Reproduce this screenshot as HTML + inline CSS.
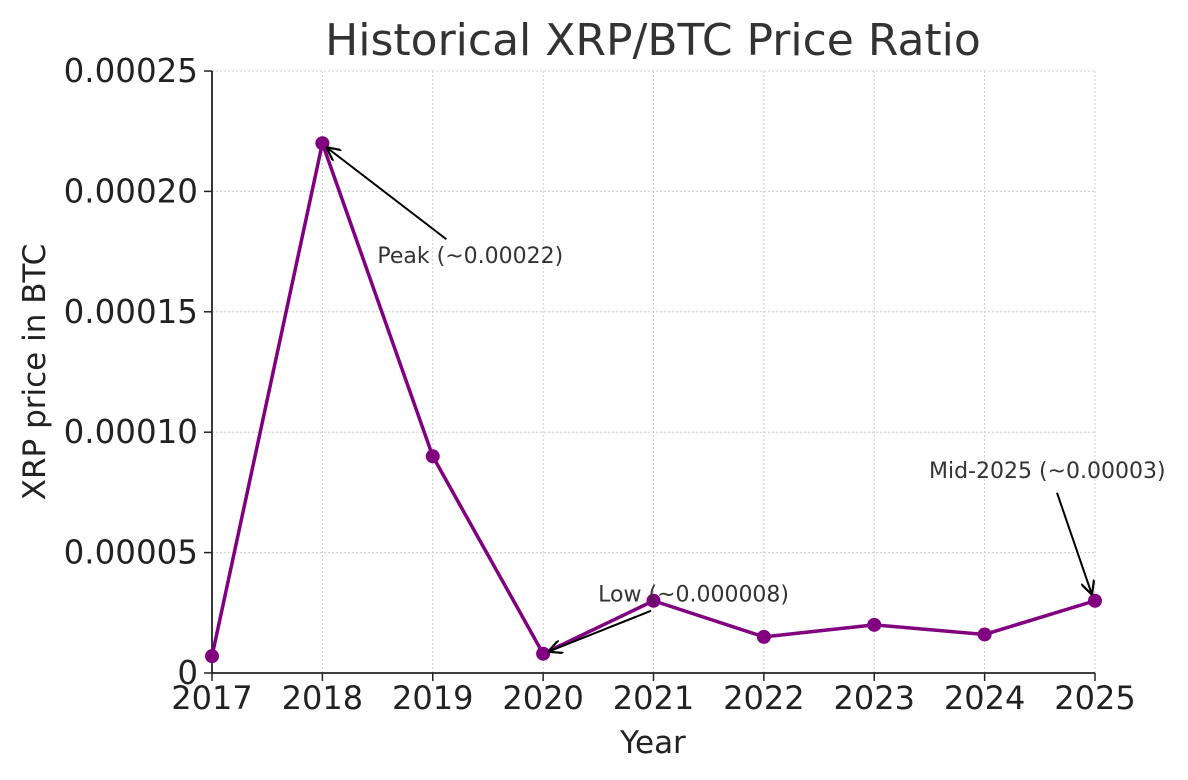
<!DOCTYPE html>
<html><head><meta charset="utf-8"><style>
html,body{margin:0;padding:0;background:#fff;}
svg{display:block;font-family:"DejaVu Sans","Liberation Sans",sans-serif;}
</style></head><body>
<svg id="chart" width="1188" height="780" viewBox="0 0 1188 780">
<text x="653" y="55" font-size="44" fill="#333" text-anchor="middle">Historical XRP/BTC Price Ratio</text>
<g id="grid"></g>
<g id="axes"></g>
<g id="series"></g>
<g id="annots"></g>
<text x="653" y="753" font-size="31" fill="#222" text-anchor="middle">Year</text>
<text transform="translate(45,372) rotate(-90)" font-size="31" fill="#222" text-anchor="middle">XRP price in BTC</text>
</svg>
<script>
const years = [2017,2018,2019,2020,2021,2022,2023,2024,2025];
const ratios = [0.000007,0.00022,0.00009,0.000008,0.00003,0.000015,0.00002,0.000016,0.00003];
const yTicks = [0,0.00005,0.0001,0.00015,0.0002,0.00025];
const yTickLabels = ["0","0.00005","0.00010","0.00015","0.00020","0.00025"];
const annTexts = ["Peak (~0.00022)","Low (~0.000008)","Mid-2025 (~0.00003)"];
const annYears = [2018,2020,2025];
const annValues = [0.00022,0.000008,0.00003];

const NS="http://www.w3.org/2000/svg";
const X0=212,X1=1095,Y0=673,Y1=71;
const xs=y=>X0+(y-2017)/(2025-2017)*(X1-X0);
const ys=v=>Y0-v/0.00025*(Y0-Y1);
function mk(tag,attrs,parent){const e=document.createElementNS(NS,tag);for(const k in attrs)e.setAttribute(k,attrs[k]);parent.appendChild(e);return e;}
const grid=document.getElementById('grid'),axes=document.getElementById('axes'),series=document.getElementById('series'),ann=document.getElementById('annots');
years.forEach(yr=>{
  const l=mk('line',{x1:xs(yr),x2:xs(yr),y1:Y1,y2:Y0,stroke:'#ccc','stroke-width':1,'stroke-dasharray':'2,2'},grid);
  
  
  const t=mk('line',{x1:xs(yr),x2:xs(yr),y1:Y0,y2:Y0+8,stroke:'#222','stroke-width':1.5},axes);
  
  
  const tx=mk('text',{x:xs(yr),y:709,'font-size':32,fill:'#222','text-anchor':'middle'},axes);
  tx.textContent=yr;
  
  
});
yTicks.forEach((v,i)=>{
  const l=mk('line',{x1:X0,x2:X1,y1:ys(v),y2:ys(v),stroke:'#ccc','stroke-width':1,'stroke-dasharray':'2,2'},grid);
  
  
  const t=mk('line',{x1:X0-8,x2:X0,y1:ys(v),y2:ys(v),stroke:'#222','stroke-width':1.5},axes);
  
  
  const tx=mk('text',{x:X0-14,y:ys(v)+11,'font-size':32.5,fill:'#222','text-anchor':'end'},axes);
  tx.textContent=yTickLabels[i];
  
  
});
const ya=mk('line',{x1:X0,x2:X0,y1:Y1,y2:Y0,stroke:'#222','stroke-width':1.8},axes);


const xa=mk('line',{x1:X0,x2:X1,y1:Y0,y2:Y0,stroke:'#222','stroke-width':1.8},axes);


const pl=mk('polyline',{points:years.map((y,i)=>xs(y)+','+ys(ratios[i])).join(' '),fill:'none',stroke:'#800080','stroke-width':3.5,'stroke-linejoin':'round'},series);


years.forEach((y,i)=>{
  const c=mk('circle',{cx:xs(y),cy:ys(ratios[i]),r:7,fill:'#800080'},series);
  
  
});
mk('defs',{},ann).innerHTML='<marker id="ah" viewBox="0 0 10 10" refX="10" refY="5" markerWidth="7" markerHeight="7" orient="auto-start-reverse"><path d="M0,0 L10,5 L0,10" fill="none" stroke="#000" stroke-width="1.6"/></marker>';
const annOff=[[55,120],[55,-52],[-166,-123]];
const arrowFrom=[[124,96],[108,-43],[-38,-108]];
annTexts.forEach((s,i)=>{
  const px=xs(annYears[i]),py=ys(annValues[i]);
  const a=mk('line',{x1:px+arrowFrom[i][0],y1:py+arrowFrom[i][1],x2:px+(i==0?4:i==1?5:-3),y2:py+(i==0?4:i==1?-2:-6),stroke:'#000','stroke-width':2,'marker-end':'url(#ah)'},ann);
  
  
  const t=mk('text',{x:px+annOff[i][0],y:py+annOff[i][1],'font-size':22,fill:'#333'},ann);
  t.textContent=s;
  
  
});
</script>
</body></html>
